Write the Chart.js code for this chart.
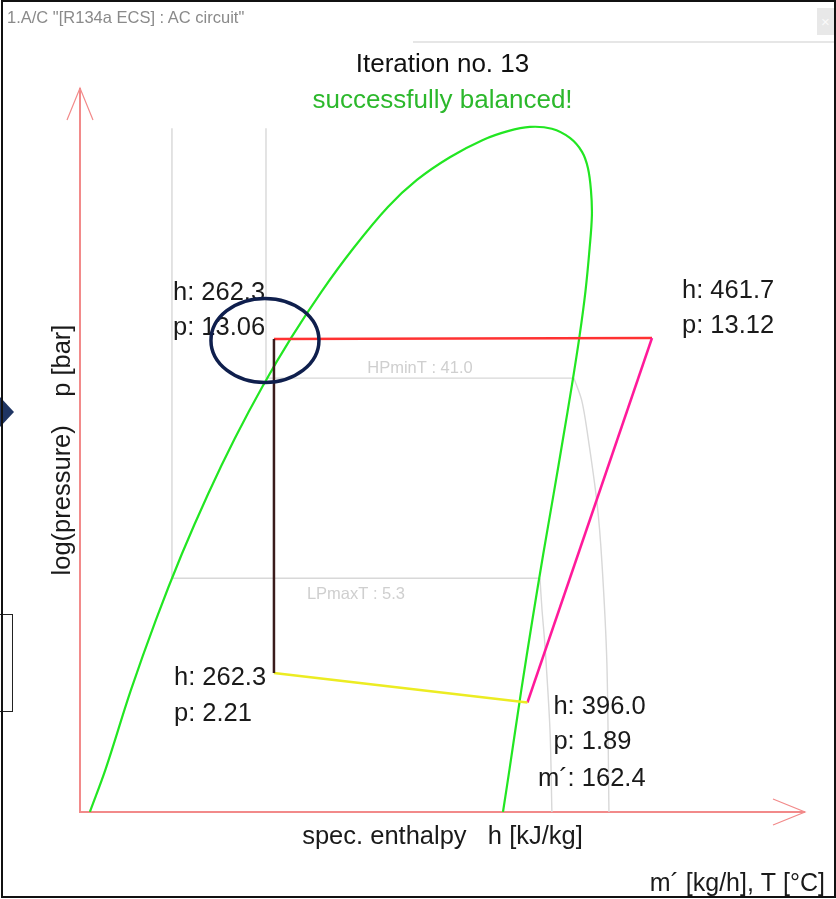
<!DOCTYPE html>
<html>
<head>
<meta charset="utf-8">
<title>AC circuit</title>
<script src="https://cdn.jsdelivr.net/npm/chart.js@4.4.0/dist/chart.umd.min.js"></script>
<style>
  html, body { margin: 0; padding: 0; background: #fff; }
  #win { position: relative; width: 836px; height: 899px; overflow: hidden; background: #fff;
         font-family: "Liberation Sans", Arial, sans-serif; }
  #c { position: absolute; left: 0; top: 0; }
  #frame { position: absolute; left: 1px; top: 0; right: 0; bottom: 1px; border: 2px solid #111;
           box-sizing: border-box; pointer-events: none; }
  #caption { position: absolute; left: 7px; top: 8px; font-size: 16.5px; color: #8a8a8a; white-space: pre; }
  #rule { position: absolute; left: 413px; top: 41px; right: 0; height: 2px; background: #e6e6e6; }
  #close { position: absolute; left: 817px; top: 8px; width: 17px; height: 27px; background: #e8e8e8;
           color: #fafafa; font-size: 15px; line-height: 27px; text-align: center; }
  #pointer { position: absolute; left: 0; top: 397px; width: 14px; height: 30px; background: #1f3563;
             clip-path: polygon(0 0, 100% 50%, 0 100%); }
  #tab { position: absolute; left: -2px; top: 614px; width: 15px; height: 98px; background: #fbfbfb;
         border: 1.5px solid #222; box-sizing: border-box; }
</style>
</head>
<body>
<div id="win">
  <canvas id="c" width="836" height="899"></canvas>
  <div id="caption">1.A/C "[R134a ECS] : AC circuit"</div>
  <div id="rule"></div>
  <div id="close">×</div>
  <div id="pointer"></div>
  <div id="tab"></div>
  <div id="frame"></div>
</div>
<script>
// Axis ranges: specific enthalpy h [kJ/kg] (linear) and pressure p [bar] (log)
const hRange = [160.0, 542.4];
const pRange = [1.056, 49.56];

// R134a saturation dome: liquid branch up to the critical point, then the vapour branch down
const domeH = [165.2, 173.6, 186.7, 200.0, 213.6, 227.5, 241.7, 256.4, 271.6, 287.5, 304.3, 322.4,
               337.7, 355.1, 372.5, 385.7, 397.3, 408.9, 418.4, 424.8, 427.9, 429.5, 430.0, 428.8,
               426.6, 423.4, 419.4, 414.8, 409.8, 404.3, 398.6, 392.7, 386.6, 383.1];
const domeP = [1.056, 1.33, 2.01, 2.93, 4.15, 5.72, 7.70, 10.17, 13.18, 16.82, 21.17, 26.33,
               30.4, 34.3, 37.6, 39.4, 40.3, 39.9, 38.0, 35.3, 32.4, 28.8, 25.2, 21.17,
               16.82, 13.18, 10.17, 7.70, 5.72, 4.15, 2.93, 2.01, 1.33, 1.056];

// High-pressure minimum temperature isotherm (liquid, two-phase, superheated vapour)
const hpMinT = 41.0;
const hpIsoH = [258.1, 258.1, 420.5, 424.6, 427.4, 432.7, 435.3, 437.9, 439.0];
const hpIsoP = [40.0, 10.6, 10.6, 9.43, 8.04, 5.46, 3.97, 2.33, 1.056];

// Low-pressure maximum temperature isotherm
const lpMaxT = 5.3;
const lpIsoH = [208.5, 208.5, 402.6, 403.7, 405.3, 407.9, 408.9];
const lpIsoP = [40.0, 3.66, 3.66, 3.09, 2.54, 1.63, 1.056];

// Cycle states: condenser outlet, compressor outlet, compressor inlet, evaporator inlet
const stateH = [262.3, 461.7, 396.0, 262.3];
const stateP = [13.06, 13.12, 1.89, 2.21];
const massFlow = 162.4;
const iteration = 13;

// Cycle legs: condenser, compressor, evaporator, expansion valve
const legColors = ['#ff3232', '#ff1a9a', '#ecec22', '#3a1c1c'];
const cycleOrder = [0, 1, 2, 3, 0];

const pts = (hs, ps) => hs.map((h, i) => ({ x: h, y: ps[i] }));
const FONT = '"Liberation Sans", Arial, sans-serif';
const gray = '#d8d8d8';

const overlay = {
  id: 'phOverlay',
  beforeDatasetsDraw(chart) {
    const { ctx, chartArea: a } = chart;
    ctx.save();
    // axes with arrow heads
    ctx.strokeStyle = '#f28a8a';
    ctx.lineWidth = 2;
    ctx.beginPath();
    ctx.moveTo(a.left, a.top);
    ctx.lineTo(a.left, a.bottom);
    ctx.lineTo(a.right, a.bottom);
    ctx.stroke();
    ctx.lineWidth = 1.2;
    ctx.beginPath();
    ctx.moveTo(a.left - 13, a.top + 32);
    ctx.lineTo(a.left, a.top);
    ctx.lineTo(a.left + 13, a.top + 32);
    ctx.moveTo(a.right - 32, a.bottom - 13);
    ctx.lineTo(a.right, a.bottom);
    ctx.lineTo(a.right - 32, a.bottom + 13);
    ctx.stroke();

    // isotherm captions
    const xs = chart.scales.x, ys = chart.scales.y;
    ctx.font = '16.5px ' + FONT;
    ctx.fillStyle = '#cfcfcf';
    ctx.textAlign = 'center';
    ctx.textBaseline = 'alphabetic';
    const hx = (xs.getPixelForValue(hpIsoH[1]) + xs.getPixelForValue(hpIsoH[2])) / 2;
    ctx.fillText('HPminT : ' + hpMinT.toFixed(1), hx, ys.getPixelForValue(hpIsoP[1]) - 5);
    const lx = (xs.getPixelForValue(lpIsoH[1]) + xs.getPixelForValue(lpIsoH[2])) / 2;
    ctx.fillText('LPmaxT : ' + lpMaxT.toFixed(1), lx, ys.getPixelForValue(lpIsoP[1]) + 21);
    ctx.restore();
  },
  afterDatasetsDraw(chart) {
    const { ctx, chartArea: a } = chart;
    const xs = chart.scales.x, ys = chart.scales.y;
    const cx = (a.left + a.right) / 2;
    ctx.save();
    ctx.textBaseline = 'alphabetic';

    // heading
    ctx.textAlign = 'center';
    ctx.font = '26px ' + FONT;
    ctx.fillStyle = '#111';
    ctx.fillText('Iteration no. ' + iteration, cx, a.top - 16);
    ctx.fillStyle = '#2cb82c';
    ctx.fillText('successfully balanced!', cx, a.top + 20);

    // axis titles
    ctx.font = '25.5px ' + FONT;
    ctx.fillStyle = '#1a1a1a';
    ctx.fillText('spec. enthalpy   h [kJ/kg]', cx, a.bottom + 32);
    ctx.save();
    ctx.translate(a.left - 10, (a.top + a.bottom) / 2);
    ctx.rotate(-Math.PI / 2);
    ctx.fillText('log(pressure)    p [bar]', 0, 0);
    ctx.restore();
    ctx.textAlign = 'right';
    ctx.font = '25px ' + FONT;
    ctx.fillText('m\u00b4 [kg/h], T [\u00b0C]', a.right + 20, a.bottom + 79);

    // state labels, aligned on the colon
    ctx.font = '25.5px ' + FONT;
    ctx.textAlign = 'left';
    const hw = ctx.measureText('h').width;
    const block = (i, dx, dys, extra) => {
      const px = xs.getPixelForValue(stateH[i]);
      const py = ys.getPixelForValue(stateP[i]);
      const colonX = px + dx + hw;
      const lines = ['h: ' + stateH[i].toFixed(1), 'p: ' + stateP[i].toFixed(2)];
      if (extra) lines.push(extra);
      lines.forEach((t, k) => {
        const pre = ctx.measureText(t.slice(0, t.indexOf(':'))).width;
        ctx.fillText(t, colonX - pre, py + dys[k]);
      });
    };
    block(0, -101, [-39, -4]);
    block(1, 30, [-40, -5]);
    block(3, -100, [12, 48]);
    block(2, 26, [11, 46, 83], 'm\u00b4: ' + massFlow.toFixed(1));

    // marker ring around the condenser outlet state
    const ex = xs.getPixelForValue(stateH[0]) - 9;
    const ey = ys.getPixelForValue(stateP[0]) + 1.5;
    ctx.strokeStyle = '#0f1f4d';
    ctx.lineWidth = 3.5;
    ctx.beginPath();
    ctx.ellipse(ex, ey, 54, 42, 0, 0, Math.PI * 2);
    ctx.stroke();
    ctx.restore();
  }
};

const line = (data, color, width, tension, order, extra) => Object.assign({
  data, borderColor: color, borderWidth: width, tension, order,
  showLine: true, pointRadius: 0, fill: false
}, extra || {});

new Chart(document.getElementById('c'), {
  type: 'scatter',
  data: {
    datasets: [
      line(cycleOrder.map(i => ({ x: stateH[i], y: stateP[i] })), legColors[0], 2.5, 0, 0, {
        segment: { borderColor: c => legColors[c.p0DataIndex] }
      }),
      line(pts(domeH, domeP), '#22e622', 2.2, 0.35, 1),
      line(pts(hpIsoH.slice(0, 3), hpIsoP.slice(0, 3)), gray, 1.4, 0, 2),
      line(pts(hpIsoH.slice(2), hpIsoP.slice(2)), gray, 1.4, 0.3, 2),
      line(pts(lpIsoH.slice(0, 3), lpIsoP.slice(0, 3)), gray, 1.4, 0, 2),
      line(pts(lpIsoH.slice(2), lpIsoP.slice(2)), gray, 1.4, 0.3, 2)
    ]
  },
  options: {
    responsive: false,
    animation: false,
    events: [],
    layout: { padding: { left: 80, top: 88, right: 31, bottom: 87 } },
    plugins: { legend: { display: false }, tooltip: { enabled: false } },
    scales: {
      x: { type: 'linear', min: hRange[0], max: hRange[1], display: false },
      y: { type: 'logarithmic', min: pRange[0], max: pRange[1], display: false }
    }
  },
  plugins: [overlay]
});
</script>
</body>
</html>
